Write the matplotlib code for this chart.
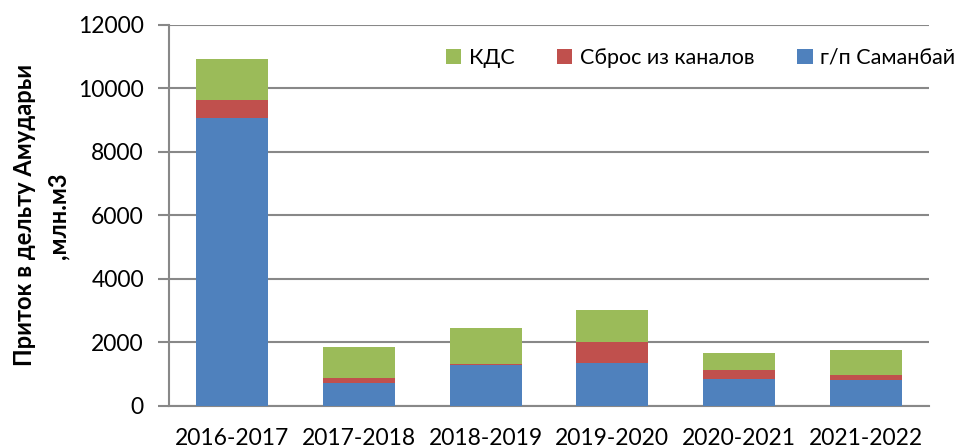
import matplotlib.pyplot as plt
import numpy as np

plt.rcParams['font.family'] = ['Lato', 'DejaVu Sans']

years = ['2016-2017', '2017-2018', '2018-2019', '2019-2020', '2020-2021', '2021-2022']
samanbay = [9050, 730, 1290, 1340, 840, 830]
sbros = [580, 160, 30, 660, 290, 145]
kds = [1290, 975, 1125, 1030, 535, 800]

fig = plt.figure(figsize=(9.58, 4.48), dpi=100)
ax = fig.add_axes([0.1764, 0.0938, 0.7933, 0.8512])

x = np.arange(len(years))
w = 0.57
b1 = ax.bar(x, samanbay, w, color='#4F81BD', label='г/п Саманбай', zorder=3)
b2 = ax.bar(x, sbros, w, bottom=samanbay, color='#C0504D', label='Сброс из каналов', zorder=3)
bottom2 = np.array(samanbay) + np.array(sbros)
b3 = ax.bar(x, kds, w, bottom=bottom2, color='#9BBB59', label='КДС', zorder=3)

ax.set_xlim(-0.5, len(years) - 0.5)
ax.set_ylim(0, 12000)
ax.set_yticks(range(0, 12001, 2000))
ax.set_xticks(x)
ax.set_xticklabels(years, fontsize=16.5)
ax.tick_params(axis='y', labelsize=16.5, length=8, color='#888888', width=1.5, pad=10)
ax.tick_params(axis='x', length=0, pad=16)
ax.grid(axis='y', color='#888888', linewidth=1.5, zorder=0)
for s in ['top', 'right']:
    ax.spines[s].set_visible(False)
ax.spines['left'].set_color('#888888')
ax.spines['bottom'].set_color('#888888')
ax.spines['left'].set_linewidth(1.5)
ax.spines['bottom'].set_linewidth(1.5)

ax.set_ylabel('Приток в дельту Амударьи\n,млн.м3', fontsize=17, fontweight='bold',
              labelpad=6, linespacing=1.55)

ax.legend(handles=[b3, b2, b1], loc='upper right', ncol=3, frameon=False, fontsize=15.5,
          handlelength=0.7, handleheight=0.7, handletextpad=0.35, columnspacing=2.0,
          bbox_to_anchor=(1.06, 0.99))

fig.savefig('out.png', dpi=100)
